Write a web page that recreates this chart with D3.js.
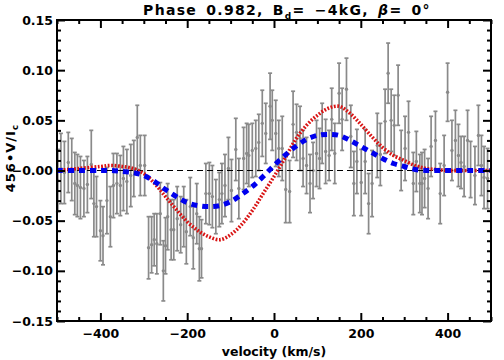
<!DOCTYPE html>
<html>
<head>
<meta charset="utf-8">
<script src="https://cdn.jsdelivr.net/npm/d3@7"></script>
<style>
  body {
    margin: 0;
    background: white;
  }

  svg {
    display: block;
    font-family: 'DejaVu Sans', sans-serif;
    font-weight: bold;
  }
</style>
</head>
<body>
<div id="holder"></div>

<script>
  // Observed Stokes V points (velocity in km/s, scaled V/Ic, error)
  const obsVel = [
    -498, -491, -483, -474, -466, -459, -453, -446, -438, -430, -421, -415, -409,
    -400, -394, -385, -377, -370, -362, -354, -347, -339, -330, -323, -315, -308,
    -298, -289, -282, -276, -270, -262, -255, -250, -245, -237, -231, -223, -215,
    -208, -202, -193, -186, -178, -172, -167, -157, -149, -142, -134, -126, -120,
    -113, -105, -98, -88, -81, -70, -63, -58, -50, -42, -35, -27, -19, -9, -4,
    4, 11, 19, 27, 36, 44, 52, 60, 67, 75, 83, 90, 98, 105, 111, 119, 127, 133,
    140, 150, 157, 167, 177, 184, 191, 201, 210, 218, 226, 238, 245, 256, 263,
    270, 277, 286, 293, 302, 310, 321, 328, 336, 341, 347, 355, 362, 372, 383,
    392, 400, 410, 418, 425, 431, 438, 446, 453, 463, 471, 478, 484, 492
  ];
  const obsVal = [
    -0.010, 0.002, -0.002, 0.008, 0.001, -0.013, -0.015, -0.017, -0.018, -0.014, 0.006, -0.033, -0.036,
    -0.060, -0.065, -0.030, -0.046, -0.015, -0.013, -0.015, -0.008, -0.011, -0.005, 0.002, 0.033, 0.005,
    0.005, -0.077, -0.074, -0.069, -0.073, -0.043, -0.100, -0.075, -0.046, -0.059, -0.059, -0.048, -0.054,
    -0.046, -0.061, -0.036, -0.067, -0.043, -0.078, -0.078, -0.023, -0.023, -0.026, -0.036, -0.029, -0.023,
    -0.015, 0.002, -0.020, 0.021, -0.018, 0.012, 0.017, 0.015, 0.020, 0.022, 0.028, 0.047, 0.037, 0.064, 0.050,
    0.037, 0.022, 0.022, -0.019, -0.021, 0.046, 0.038, 0.032, 0.012, 0.005, -0.013, 0.000, 0.017, 0.012, 0.037, 0.019, 0.015, 0.051,
    0.017, 0.077, 0.051, 0.081, 0.034, -0.013, 0.009, -0.012, 0.009, -0.033, -0.013, 0.025, 0.016, 0.049, 0.097,
    0.050, 0.045, 0.075, 0.010, 0.022, 0.038, -0.013, 0.009, -0.013, -0.013, -0.008, -0.018, 0.024, 0.030, -0.023,
    0.005, 0.078, 0.020, 0.030, 0.015, 0.008, 0.004, 0.030, 0.001, -0.005, 0.035, 0.005, -0.007, -0.008
  ];
  const obsErr = [
    0.031, 0.035, 0.031, 0.030, 0.031, 0.031, 0.031, 0.031, 0.028, 0.028, 0.034, 0.033, 0.030,
    0.030, 0.029, 0.033, 0.030, 0.032, 0.030, 0.030, 0.032, 0.032, 0.031, 0.028, 0.032, 0.030,
    0.030, 0.031, 0.028, 0.026, 0.030, 0.031, 0.030, 0.028, 0.033, 0.030, 0.030, 0.032, 0.028,
    0.030, 0.032, 0.029, 0.031, 0.030, 0.032, 0.029, 0.030, 0.031, 0.031, 0.027, 0.027, 0.030,
    0.031, 0.031, 0.031, 0.031, 0.030, 0.031, 0.030, 0.031, 0.027, 0.028, 0.028, 0.033, 0.030, 0.033, 0.030,
    0.033, 0.028, 0.032, 0.033, 0.031, 0.033, 0.028, 0.032, 0.028, 0.028, 0.029, 0.028, 0.033, 0.030, 0.030, 0.032, 0.025, 0.031,
    0.030, 0.030, 0.031, 0.031, 0.031, 0.032, 0.032, 0.033, 0.032, 0.030, 0.033, 0.032, 0.031, 0.032, 0.030,
    0.031, 0.030, 0.030, 0.030, 0.032, 0.031, 0.031, 0.030, 0.029, 0.031, 0.029, 0.030, 0.030, 0.029, 0.030,
    0.030, 0.029, 0.030, 0.030, 0.031, 0.026, 0.030, 0.030, 0.028, 0.029, 0.030, 0.030, 0.031, 0.030
  ];

  // Model profiles
  const modelVel = [
    -500, -450, -400, -375, -350, -325, -300, -275, -250, -225, -200, -175, -150, -125, -100, -75, -50, -25,
    0, 25, 50, 75, 100, 125, 150, 175, 200, 225, 250, 275, 300, 325, 350, 375, 400, 450, 500
  ];
  const modelRed = [
    0.000, 0.002, 0.004, 0.005, 0.004, 0.002, -0.003, -0.013, -0.026, -0.039, -0.051, -0.060, -0.066, -0.069, -0.064, -0.054, -0.040, -0.023,
    -0.006, 0.012, 0.031, 0.045, 0.055, 0.062, 0.064, 0.057, 0.046, 0.034, 0.023, 0.015, 0.010, 0.005, 0.002, 0.001, 0.000, 0.000, 0.000
  ];
  const modelBlue = [
    0.000, 0.000, 0.000, 0.000, -0.001, -0.002, -0.005, -0.011, -0.019, -0.026, -0.032, -0.035, -0.036, -0.035, -0.031, -0.024, -0.016, -0.006,
    0.005, 0.015, 0.024, 0.031, 0.035, 0.036, 0.035, 0.030, 0.024, 0.018, 0.012, 0.007, 0.004, 0.001, 0.000, 0.000, 0.000, 0.000, 0.000
  ];

  // Axis ticks
  const xTicks = [-400, -200, 0, 200, 400];
  const xMinor = [-500, -450, -350, -300, -250, -150, -100, -50, 50, 100, 150, 250, 300, 350, 450, 500];
  const yTicks = [-0.15, -0.10, -0.05, 0.00, 0.05, 0.10, 0.15];
  const yMinor = [-0.14, -0.13, -0.12, -0.11, -0.09, -0.08, -0.07, -0.06, -0.04, -0.03, -0.02, -0.01,
    0.01, 0.02, 0.03, 0.04, 0.06, 0.07, 0.08, 0.09, 0.11, 0.12, 0.13, 0.14];

  const w = 504;
  const h = 360;
  const padL = 57, padR = 491, padT = 20, padB = 321;

  const xScale = d3.scaleLinear().domain([-500, 500]).range([padL, padR]);
  const yScale = d3.scaleLinear().domain([-0.15, 0.15]).range([padB, padT]);

  const svg = d3.select('#holder').append('svg').attr('width', w).attr('height', h);

  // Error bars
  const obs = obsVel.map((v, i) => ({ v: v, val: obsVal[i], err: obsErr[i] }));
  const bars = svg.append('g').attr('stroke', '#8a8a8a').attr('stroke-width', 1.7);
  bars.selectAll('line.bar')
    .data(obs)
    .enter()
    .append('line')
    .attr('class', 'bar')
    .attr('x1', (d) => xScale(d.v))
    .attr('x2', (d) => xScale(d.v))
    .attr('y1', (d) => yScale(d.val - d.err))
    .attr('y2', (d) => yScale(d.val + d.err));
  bars.selectAll('line.capTop')
    .data(obs)
    .enter()
    .append('line')
    .attr('class', 'capTop')
    .attr('x1', (d) => xScale(d.v) - 2)
    .attr('x2', (d) => xScale(d.v) + 2)
    .attr('y1', (d) => yScale(d.val + d.err))
    .attr('y2', (d) => yScale(d.val + d.err));
  bars.selectAll('line.capBot')
    .data(obs)
    .enter()
    .append('line')
    .attr('class', 'capBot')
    .attr('x1', (d) => xScale(d.v) - 2)
    .attr('x2', (d) => xScale(d.v) + 2)
    .attr('y1', (d) => yScale(d.val - d.err))
    .attr('y2', (d) => yScale(d.val - d.err));
  svg.append('g')
    .selectAll('circle')
    .data(obs)
    .enter()
    .append('circle')
    .attr('cx', (d) => xScale(d.v))
    .attr('cy', (d) => yScale(d.val))
    .attr('r', 1.7)
    .attr('fill', '#8a8a8a');

  // zero line
  svg.append('line')
    .attr('x1', xScale(-500))
    .attr('x2', xScale(500))
    .attr('y1', yScale(0))
    .attr('y2', yScale(0))
    .attr('stroke', 'black')
    .attr('stroke-width', 1)
    .attr('stroke-dasharray', '6,4');

  // Model curves
  const model = modelVel.map((v, i) => ({ v: v, red: modelRed[i], blue: modelBlue[i] }));
  const redLine = d3.line().x((d) => xScale(d.v)).y((d) => yScale(d.red)).curve(d3.curveCatmullRom);
  const blueLine = d3.line().x((d) => xScale(d.v)).y((d) => yScale(d.blue)).curve(d3.curveCatmullRom);

  svg.append('path')
    .datum(model)
    .attr('d', redLine)
    .attr('fill', 'none')
    .attr('stroke', '#d91414')
    .attr('stroke-width', 3.6)
    .attr('stroke-dasharray', '1.8,1.6');

  svg.append('path')
    .datum(model)
    .attr('d', blueLine)
    .attr('fill', 'none')
    .attr('stroke', '#0000ee')
    .attr('stroke-width', 5)
    .attr('stroke-dasharray', '6,5');

  // Axes (ticks point inward, IDL style)
  function styleAxis(g) {
    g.select('.domain').remove();
    g.selectAll('.tick line').attr('stroke', 'black').attr('stroke-width', 2);
    g.selectAll('text').attr('fill', 'black').style('font-size', '12.5px').style('font-weight', 'bold')
      .style('font-family', "'DejaVu Sans', sans-serif");
  }

  const fmtY = (d) => (d === 0 ? '\u22120.00' : d3.format('.2f')(d));

  svg.append('g').attr('transform', 'translate(0,' + padB + ')')
    .call(d3.axisBottom(xScale).tickValues(xTicks).tickSize(-8).tickPadding(8).tickFormat(d3.format('d')))
    .call(styleAxis);
  svg.append('g').attr('transform', 'translate(0,' + padB + ')')
    .call(d3.axisBottom(xScale).tickValues(xMinor).tickSize(-4).tickFormat(''))
    .call(styleAxis);
  svg.append('g').attr('transform', 'translate(0,' + padT + ')')
    .call(d3.axisTop(xScale).tickValues(xTicks).tickSize(-8).tickFormat(''))
    .call(styleAxis);
  svg.append('g').attr('transform', 'translate(0,' + padT + ')')
    .call(d3.axisTop(xScale).tickValues(xMinor).tickSize(-4).tickFormat(''))
    .call(styleAxis);

  svg.append('g').attr('transform', 'translate(' + padL + ',0)')
    .call(d3.axisLeft(yScale).tickValues(yTicks).tickSize(-8).tickPadding(4).tickFormat(fmtY))
    .call(styleAxis);
  svg.append('g').attr('transform', 'translate(' + padL + ',0)')
    .call(d3.axisLeft(yScale).tickValues(yMinor).tickSize(-4).tickFormat(''))
    .call(styleAxis);
  svg.append('g').attr('transform', 'translate(' + padR + ',0)')
    .call(d3.axisRight(yScale).tickValues(yTicks).tickSize(-8).tickFormat(''))
    .call(styleAxis);
  svg.append('g').attr('transform', 'translate(' + padR + ',0)')
    .call(d3.axisRight(yScale).tickValues(yMinor).tickSize(-4).tickFormat(''))
    .call(styleAxis);

  // Frame
  svg.append('rect')
    .attr('x', padL)
    .attr('y', padT)
    .attr('width', padR - padL)
    .attr('height', padB - padT)
    .attr('fill', 'none')
    .attr('stroke', 'black')
    .attr('stroke-width', 2);

  // Title
  const title = svg.append('text')
    .attr('x', 287)
    .attr('y', 15)
    .attr('text-anchor', 'middle')
    .style('font-size', '14px')
    .style('letter-spacing', '1.3px')
    .style('word-spacing', '3px');
  title.append('tspan').text('Phase 0.982, B');
  title.append('tspan').attr('dy', 4).style('font-size', '9px').text('d');
  title.append('tspan').attr('dy', -4).text('= \u22124kG, ');
  title.append('tspan').style('font-style', 'italic').text('\u03b2');
  title.append('tspan').text('= 0\u00b0');

  // X label
  svg.append('text')
    .attr('x', 274)
    .attr('y', 356)
    .attr('text-anchor', 'middle')
    .style('font-size', '12.5px')
    .text('velocity (km/s)');

  // Y label
  const ylab = svg.append('text')
    .attr('transform', 'translate(15,158) rotate(-90)')
    .attr('text-anchor', 'middle')
    .style('font-size', '13px')
    .style('letter-spacing', '1px');
  ylab.append('tspan').text('456\u2022V/I');
  ylab.append('tspan').attr('dy', 3).style('font-size', '9px').text('c');
</script>
</body>
</html>
